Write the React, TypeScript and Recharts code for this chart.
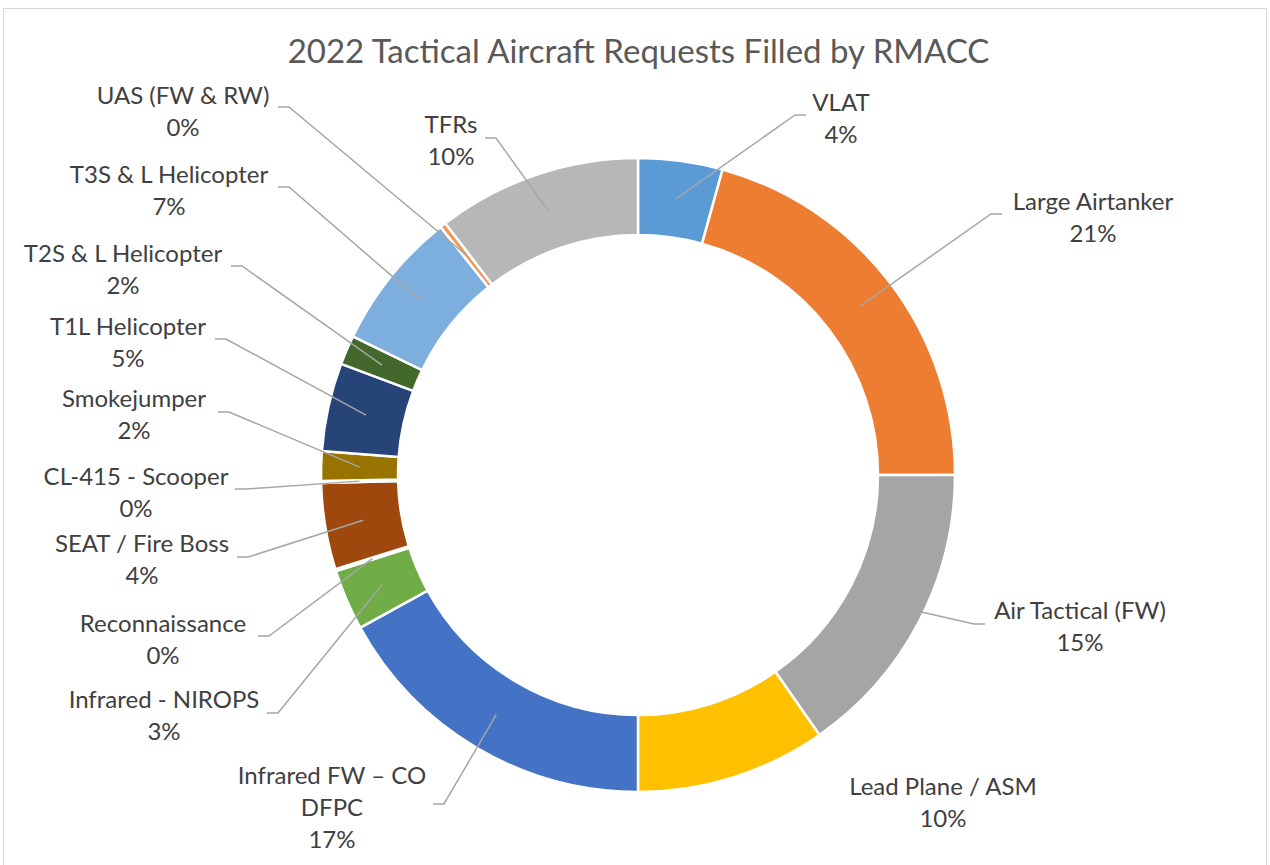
import { PieChart, Pie, Cell } from "recharts";

// Requests filled, clockwise from 12 o'clock (estimated counts, per 1000)
const CATEGORIES = [
  "VLAT",
  "Large Airtanker",
  "Air Tactical (FW)",
  "Lead Plane / ASM",
  "Infrared FW – CO DFPC",
  "Infrared - NIROPS",
  "Reconnaissance",
  "SEAT / Fire Boss",
  "CL-415 - Scooper",
  "Smokejumper",
  "T1L Helicopter",
  "T2S & L Helicopter",
  "T3S & L Helicopter",
  "UAS (FW & RW)",
  "TFRs",
];

const REQUESTS = [43, 207, 153, 97, 170, 31, 1, 44, 1, 15, 45, 15, 71, 3, 104];

const COLORS = [
  "#5B9BD5",
  "#ED7D31",
  "#A5A5A5",
  "#FFC000",
  "#4472C4",
  "#70AD47",
  "#255E91",
  "#9E480E",
  "#636363",
  "#997300",
  "#264478",
  "#43682B",
  "#7CAFDD",
  "#F1975A",
  "#B7B7B7",
];

const TOTAL = REQUESTS.reduce((a, b) => a + b, 0);

// label placement, offsets from the pie centre (text centre / leader attach)
const LABEL_LAYOUT: { tx: number; ty: number; ax?: number; ay?: number; wrap?: number }[] = [
  { tx: 203, ty: -358, ax: 168, ay: -360 },
  { tx: 455, ty: -259, ax: 364, ay: -261 },
  { tx: 442, ty: 150, ax: 347, ay: 149 },
  { tx: 305, ty: 326 },
  { tx: -306, ty: 331, ax: -205, ay: 329, wrap: 16 },
  { tx: -474, ty: 239, ax: -371, ay: 238 },
  { tx: -475, ty: 163, ax: -380, ay: 161 },
  { tx: -496, ty: 83, ax: -401, ay: 82 },
  { tx: -502, ty: 16, ax: -403, ay: 14 },
  { tx: -504, ty: -62, ax: -420, ay: -63 },
  { tx: -510, ty: -134, ax: -423, ay: -136 },
  { tx: -515, ty: -207, ax: -407, ay: -209 },
  { tx: -469, ty: -286, ax: -360, ay: -288 },
  { tx: -455, ty: -365, ax: -360, ay: -368 },
  { tx: -187, ty: -336, ax: -153, ay: -337 },
];

const FONT = "Lato, 'Open Sans', sans-serif";

function wrapText(text: string, max?: number) {
  if (!max) return [text];
  const out: string[] = [];
  let cur = "";
  for (const w of text.split(" ")) {
    const next = cur ? cur + " " + w : w;
    if (next.length > max && cur) {
      out.push(cur);
      cur = w;
    } else {
      cur = next;
    }
  }
  if (cur) out.push(cur);
  return out;
}

function renderLabel(props: any) {
  const { cx, cy, midAngle, innerRadius, outerRadius, index, value } = props;
  const lay = LABEL_LAYOUT[index];
  const r = (innerRadius + outerRadius) / 2;
  const rad = (-midAngle * Math.PI) / 180;
  const sx = cx + r * Math.cos(rad);
  const sy = cy + r * Math.sin(rad);
  const tx = cx + lay.tx;
  const ty = cy + lay.ty;
  const lines = [...wrapText(CATEGORIES[index], lay.wrap), Math.round((value * 100) / TOTAL) + "%"];
  const lh = 32;
  const y0 = ty - ((lines.length - 1) * lh) / 2;

  let leader = null;
  if (lay.ax !== undefined && lay.ay !== undefined) {
    const ax = cx + lay.ax;
    const ay = cy + lay.ay;
    const ex = ax + (ax < sx ? 11 : -11);
    leader = (
      <polyline
        points={`${sx},${sy} ${ex},${ay} ${ax},${ay}`}
        fill="none"
        stroke="#A6A6A6"
        strokeWidth={1.5}
      />
    );
  }

  return (
    <g key={`lbl-${index}`}>
      {leader}
      <text
        textAnchor="middle"
        dominantBaseline="central"
        fill="#404040"
        style={{ fontFamily: FONT, fontSize: 24 }}
      >
        {lines.map((l, i) => (
          <tspan key={i} x={tx} y={y0 + i * lh}>
            {l}
          </tspan>
        ))}
      </text>
    </g>
  );
}

export default function App() {
  const data = CATEGORIES.map((name, i) => ({ name, value: REQUESTS[i] }));

  return (
    <div
      style={{
        position: "absolute",
        left: 0,
        top: 0,
        width: 1270,
        height: 865,
        background: "#fff",
        overflow: "hidden",
      }}
    >
      <div
        style={{
          position: "absolute",
          left: 3,
          top: 8,
          width: 1262,
          height: 880,
          border: "1.5px solid #D9D9D9",
        }}
      />
      <div
        style={{
          position: "absolute",
          left: 0,
          top: 28,
          width: 1277,
          textAlign: "center",
          fontFamily: FONT,
          fontSize: 33,
          lineHeight: "44px",
          color: "#595959",
        }}
      >
        2022 Tactical Aircraft Requests Filled by RMACC
      </div>
      <PieChart
        width={1270}
        height={865}
        margin={{ top: 0, right: 0, bottom: 0, left: 0 }}
        style={{ position: "absolute", left: 0, top: 0 }}
      >
        <Pie
          data={data}
          dataKey="value"
          nameKey="name"
          cx={638}
          cy={475}
          innerRadius={240}
          outerRadius={317}
          startAngle={90}
          endAngle={-270}
          paddingAngle={0}
          stroke="#FFFFFF"
          strokeWidth={2.5}
          label={renderLabel}
          labelLine={false}
          isAnimationActive={false}
        >
          {data.map((d, i) => (
            <Cell key={d.name} fill={COLORS[i]} />
          ))}
        </Pie>
      </PieChart>
    </div>
  );
}
